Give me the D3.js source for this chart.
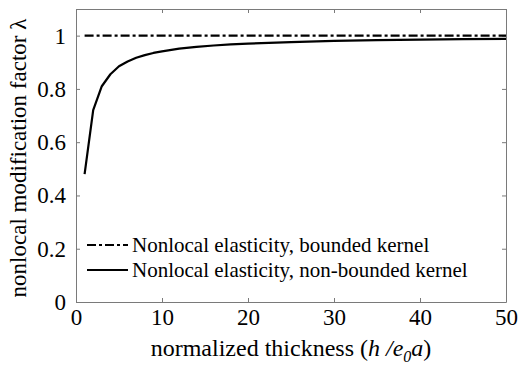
<!DOCTYPE html>
<html>
<head>
<meta charset="utf-8">
<script src="https://cdn.jsdelivr.net/npm/d3@7"></script>
</head>
<body style="margin:0">
<script>
// normalized thickness h/e0a
var thickness = [1, 2, 3, 4, 5, 6, 7, 8, 9, 10, 12, 14, 16, 18, 20, 25, 30, 35, 40, 45, 50]
// nonlocal modification factor, non-bounded kernel
var nonBounded = [0.48, 0.72, 0.81, 0.855, 0.885, 0.903, 0.917, 0.927, 0.935, 0.941, 0.951, 0.958, 0.963, 0.967, 0.970, 0.976, 0.980, 0.983, 0.985, 0.987, 0.988]
// bounded kernel stays at 1
var boundedX = [1, 50]
var bounded = [1, 1]

var xTicks = [0, 10, 20, 30, 40, 50]
var yTicks = [0, 0.2, 0.4, 0.6, 0.8, 1]
var legendLabels = ["Nonlocal elasticity, bounded kernel", "Nonlocal elasticity, non-bounded kernel"]

var width = 521,
    height = 368
var margin = {left: 76, right: 15, top: 9, bottom: 66}
var font = "Liberation Serif"

var svg = d3.select("body").append("svg").attr("width", width).attr("height", height)

var x = d3.scaleLinear().domain([0, 50]).range([margin.left, width - margin.right])
var y = d3.scaleLinear().domain([0, 1.1]).range([height - margin.bottom, margin.top])

var axisColor = "#7a7a7a"

function styleAxis(g) {
    g.attr("font-family", font).attr("font-size", 23)
    g.select(".domain").attr("stroke", axisColor)
    g.selectAll(".tick line").attr("stroke", axisColor)
    g.selectAll("text").attr("fill", "#000").attr("font-family", font)
}

// bottom axis, ticks pointing in
svg.append("g")
    .attr("transform", "translate(0," + y(0) + ")")
    .call(d3.axisBottom(x).tickValues(xTicks).tickSizeInner(-4).tickSizeOuter(0).tickPadding(7))
    .call(styleAxis)

// top axis (mirror)
svg.append("g")
    .attr("transform", "translate(0," + y(1.1) + ")")
    .call(d3.axisTop(x).tickValues(xTicks).tickSizeInner(-4).tickSizeOuter(0).tickFormat(""))
    .call(styleAxis)

// left axis
svg.append("g")
    .attr("transform", "translate(" + x(0) + ",0)")
    .call(d3.axisLeft(y).tickValues(yTicks).tickSizeInner(-4).tickSizeOuter(0).tickPadding(10)
        .tickFormat(function(d) { return String(+d.toFixed(1)) }))
    .call(styleAxis)

// right axis (mirror)
svg.append("g")
    .attr("transform", "translate(" + x(50) + ",0)")
    .call(d3.axisRight(y).tickValues(yTicks).tickSizeInner(-4).tickSizeOuter(0).tickFormat(""))
    .call(styleAxis)

var line = d3.line()
    .x(function(d) { return x(d[0]) })
    .y(function(d) { return y(d[1]) })

svg.append("path")
    .datum(d3.zip(boundedX, bounded))
    .attr("d", line)
    .attr("fill", "none")
    .attr("stroke", "#000")
    .attr("stroke-width", 2.2)
    .attr("stroke-dasharray", "9,3,3,3")

svg.append("path")
    .datum(d3.zip(thickness, nonBounded))
    .attr("d", line)
    .attr("fill", "none")
    .attr("stroke", "#000")
    .attr("stroke-width", 2.2)
    .attr("stroke-linejoin", "round")

// legend
var dashes = ["9,3,3,3", null]
legendLabels.forEach(function(lab, i) {
    var ly = 245 + i * 25
    svg.append("line")
        .attr("x1", 87).attr("x2", 128)
        .attr("y1", ly).attr("y2", ly)
        .attr("stroke", "#000")
        .attr("stroke-width", 2.2)
        .attr("stroke-dasharray", dashes[i])
    svg.append("text")
        .attr("x", 132).attr("y", ly + 7)
        .attr("font-size", 21).attr("font-family", font)
        .text(lab)
})

// axis labels
var xl = svg.append("text")
    .attr("x", 291)
    .attr("y", 356)
    .attr("text-anchor", "middle")
    .attr("font-size", 24).attr("font-family", font)
xl.append("tspan").text("normalized thickness (")
xl.append("tspan").attr("font-style", "italic").text("h /e")
xl.append("tspan").attr("font-style", "italic").attr("font-size", 16).attr("dy", 6).text("0")
xl.append("tspan").attr("font-style", "italic").attr("dy", -6).text("a")
xl.append("tspan").text(")")

svg.append("text")
    .attr("transform", "translate(26,158) rotate(-90)")
    .attr("text-anchor", "middle")
    .attr("font-size", 23).attr("font-family", font)
    .text("nonlocal modification factor \u03bb")
</script>
</body>
</html>
